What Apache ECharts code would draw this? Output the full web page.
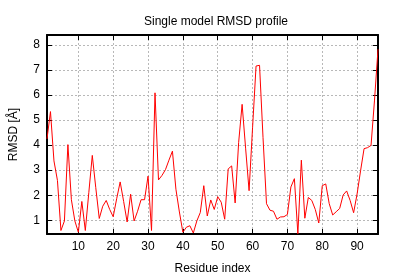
<!DOCTYPE html>
<html>
<head>
<meta charset="utf-8">
<script src="https://cdn.jsdelivr.net/npm/echarts@6/dist/echarts.min.js"></script>
<style>html,body{margin:0;padding:0;background:#fff}#c{width:400px;height:280px}</style>
</head>
<body>
<div id="c"></div>
<script>
const titleText = "Single model RMSD profile";
const xName = "Residue index";
const yName = "RMSD [Å]";
const residues = [];
for (let i = 1; i <= 96; i++) residues.push(i);
const rmsd = [
  4.25, 5.34, 3.37, 2.59, 0.59, 0.97, 4.02, 1.82, 0.97, 0.52,
  1.75, 0.59, 2.10, 3.59, 2.30, 1.07, 1.56, 1.79, 1.43, 1.14,
  1.86, 2.53, 1.75, 0.93, 2.04, 0.97, 1.36, 1.82, 1.82, 2.76,
  0.59, 6.09, 2.61, 2.79, 3.02, 3.40, 3.76, 2.24, 1.33, 0.52,
  0.72, 0.78, 0.49, 0.97, 1.31, 2.38, 1.17, 1.81, 1.43, 1.94,
  1.72, 1.04, 3.05, 3.17, 1.69, 4.10, 5.63, 3.88, 2.18, 4.70,
  7.16, 7.19, 4.30, 1.66, 1.40, 1.36, 1.04, 1.13, 1.14, 1.23,
  2.33, 2.66, 0.46, 3.40, 1.08, 1.91, 1.79, 1.43, 0.89, 2.38,
  2.45, 1.66, 1.21, 1.34, 1.47, 2.01, 2.17, 1.79, 1.30, 2.05,
  2.98, 3.86, 3.90, 3.99, 5.80, 7.83
];
const xRange = [1, 96];
const yRange = [0.45, 8.4];

const font = "Liberation Sans";
const gridLine = {show: true, lineStyle: {color: '#b8b8b8', type: [2, 2], width: 1}};
const frame = {show: true, lineStyle: {color: '#000', width: 2}};
const tickIn = {show: true, inside: true, length: 5, lineStyle: {color: '#000', width: 1}};
const intOnly = v => (Math.abs(v - Math.round(v)) < 1e-9 ? String(Math.round(v)) : '');

const chart = echarts.init(document.getElementById('c'), null, {renderer: 'canvas'});
chart.setOption({
  animation: false,
  backgroundColor: '#fff',
  title: {text: titleText, left: 211, top: 11, textAlign: 'center',
    textStyle: {fontFamily: font, fontSize: 12, fontWeight: 'normal', color: '#000'}},
  grid: {left: 45, right: 22, top: 35, bottom: 40, containLabel: false},
  xAxis: [{
    type: 'value', min: xRange[0], max: xRange[1], splitNumber: 10,
    name: xName, nameLocation: 'middle', nameGap: 29,
    nameTextStyle: {fontFamily: font, fontSize: 12, color: '#000'},
    axisLine: frame, axisTick: tickIn, splitLine: gridLine,
    axisLabel: {fontFamily: font, fontSize: 12, color: '#000', margin: 7,
      showMinLabel: false, showMaxLabel: false, formatter: v => (v % 10 === 0 ? String(v) : '')}
  }, {
    type: 'value', position: 'top', min: xRange[0], max: xRange[1], splitNumber: 10,
    axisLine: frame, axisTick: tickIn, splitLine: {show: false}, axisLabel: {show: false}
  }],
  yAxis: [{
    type: 'value', min: yRange[0], max: yRange[1], splitNumber: 8,
    name: yName, nameLocation: 'middle', nameGap: 27,
    nameTextStyle: {fontFamily: font, fontSize: 12, color: '#000'},
    axisLine: frame, axisTick: tickIn, splitLine: gridLine,
    axisLabel: {fontFamily: font, fontSize: 12, color: '#000', margin: 7,
      showMinLabel: false, showMaxLabel: false, formatter: intOnly}
  }, {
    type: 'value', position: 'right', min: yRange[0], max: yRange[1], splitNumber: 8,
    axisLine: frame, axisTick: tickIn, splitLine: {show: false}, axisLabel: {show: false}
  }],
  series: [{
    type: 'line', xAxisIndex: 0, yAxisIndex: 0,
    data: residues.map((r, i) => [r, rmsd[i]]),
    showSymbol: false, symbol: 'none',
    lineStyle: {color: '#ff0000', width: 1},
    clip: true
  }]
});
</script>
</body>
</html>
